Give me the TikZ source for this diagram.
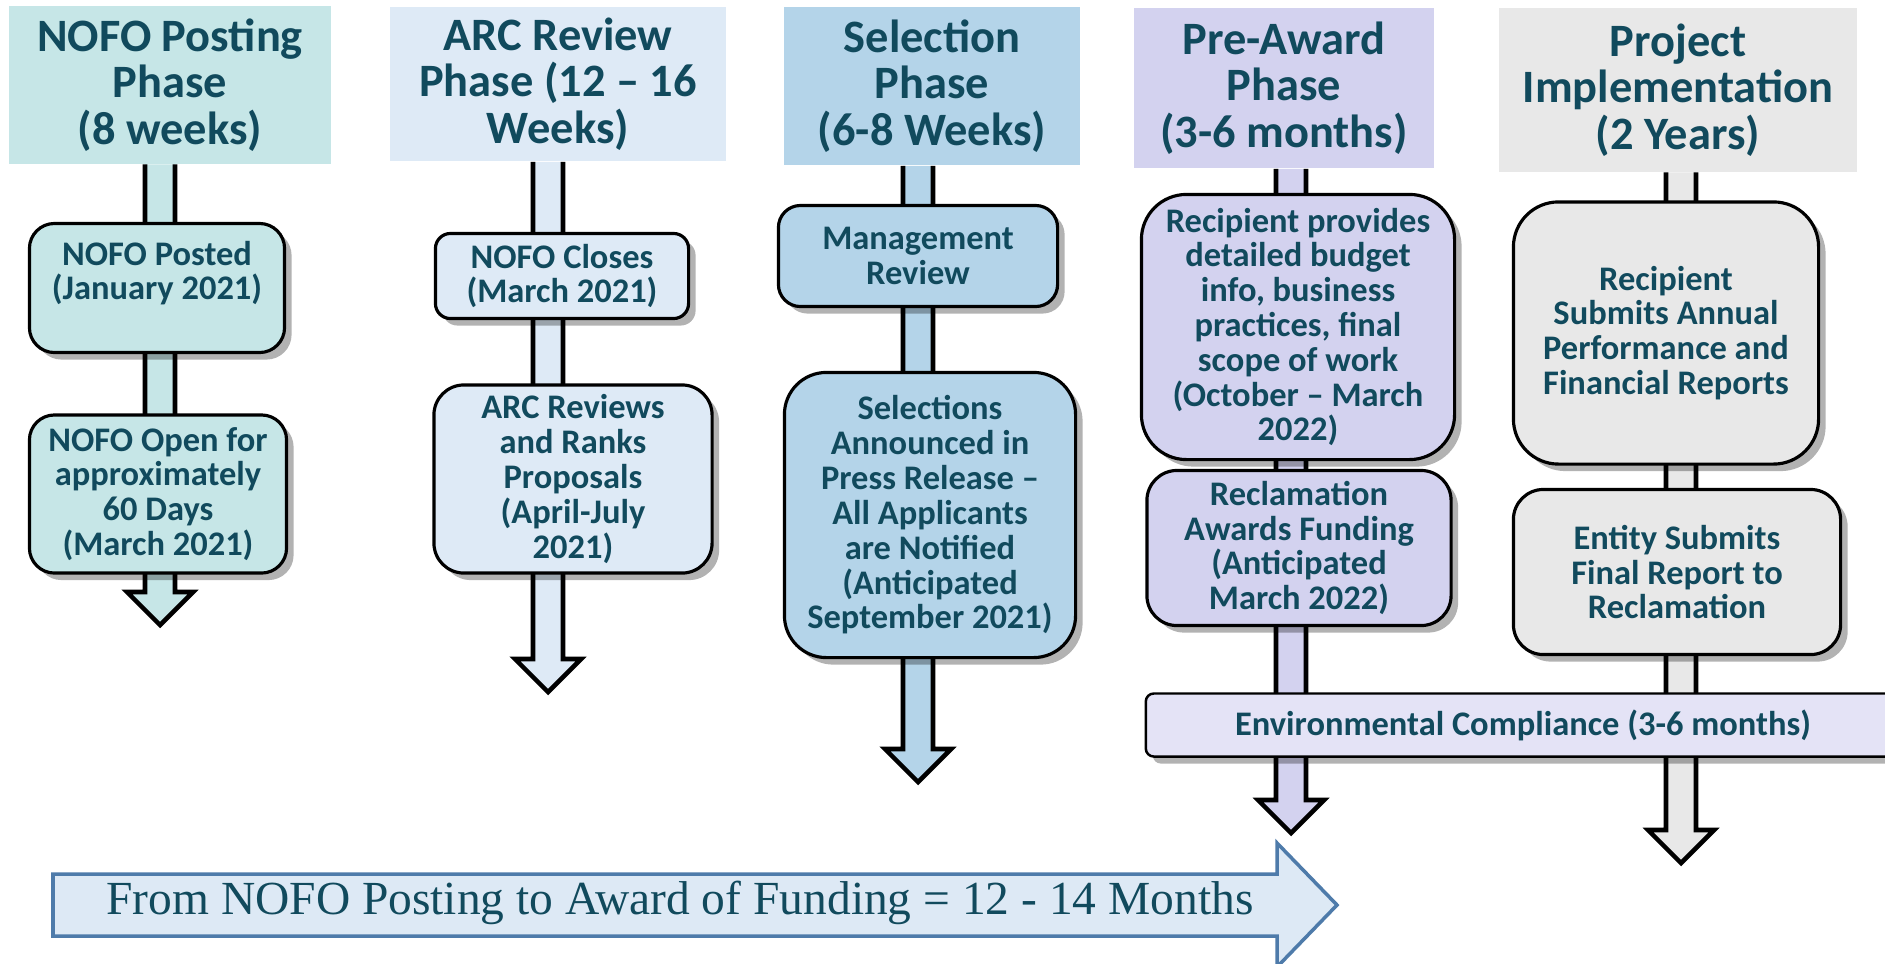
\documentclass[tikz,border=0pt]{standalone}
\usepackage{fontspec}
\setmainfont{Carlito}
\newfontfamily\spanfont{Liberation Serif}
\usetikzlibrary{calc,shadows}

\definecolor{inkteal}{HTML}{114A5D}
\definecolor{nofoteal}{HTML}{C6E6E7}
\definecolor{arcblue}{HTML}{DEEAF6}
\definecolor{selblue}{HTML}{B4D4E9}
\definecolor{awardlav}{HTML}{D3D2EF}
\definecolor{projgrey}{HTML}{E8E8E8}
\definecolor{envlav}{HTML}{E4E3F6}
\definecolor{spanedge}{HTML}{4E7BAA}
\definecolor{spanfill}{HTML}{DDE9F5}

% block arrow from a phase header down to its end point
\newcommand{\phasearrow}[3]{%
  \draw[shaft, fill=#3] ($(#1.south -| #2)+(-15,0)$) -- ($(#2)+(-15,-36)$) -- ($(#2)+(-33,-36)$)
    -- ($(#2)+(0,-3)$) -- ($(#2)+(33,-36)$) -- ($(#2)+(15,-36)$) -- ($(#1.south -| #2)+(15,0)$);}

\begin{document}
\begin{tikzpicture}[x=0.01cm, y=-0.01cm,
    phasehead/.style={fill=#1, text=inkteal, font=\fontsize{13.2}{13.2}\selectfont\bfseries,
      align=center, inner sep=0pt},
    stepbox/.style={draw=black, line width=0.9pt, fill=#1, text=inkteal,
      font=\fontsize{9.8}{9.9}\selectfont\bfseries, align=center, inner sep=0pt,
      drop shadow={shadow xshift=2pt, shadow yshift=-2pt, fill=black, opacity=0.3}},
    shaft/.style={draw=black, line width=1.3pt, line join=miter},
    spanarrow/.style={draw=spanedge, line width=1pt, fill=spanfill}]
    \useasboundingbox (0,0) rectangle (1885,963);
    \clip (0,0) rectangle (1885,963);

    \node[phasehead=nofoteal, minimum width=3.21cm, minimum height=1.57cm] (nofohead) at (170,85) {NOFO Posting\\Phase\\(8 weeks)};
    \node[phasehead=arcblue, minimum width=3.36cm, minimum height=1.54cm] (archead) at (558,84) {ARC Review\\Phase (12 – 16\\Weeks)};
    \node[phasehead=selblue, minimum width=2.96cm, minimum height=1.58cm] (selhead) at (932,86) {Selection\\Phase\\(6-8 Weeks)};
    \node[phasehead=awardlav, minimum width=2.99cm, minimum height=1.60cm] (awardhead) at (1284,88) {Pre-Award\\Phase\\(3-6 months)};
    \node[phasehead=projgrey, minimum width=3.58cm, minimum height=1.63cm] (projhead) at (1678,90) {Project\\Implementation\\(2 Years)};

    \coordinate (nofoend) at (160,628);
    \coordinate (arcend) at (548,695);
    \coordinate (selend) at (918,785);
    \coordinate (awardend) at (1291,836);
    \coordinate (projend) at (1681,866);

    \phasearrow{nofohead}{nofoend}{nofoteal}
    \phasearrow{archead}{arcend}{arcblue}
    \phasearrow{selhead}{selend}{selblue}
    \phasearrow{awardhead}{awardend}{awardlav}
    \phasearrow{projhead}{projend}{projgrey}

    \node[stepbox=nofoteal, rounded corners=0.25cm, minimum width=2.55cm, minimum height=1.29cm, text depth=10pt] (posted) at (157,288) {NOFO Posted\\(January 2021)};
    \node[stepbox=nofoteal, rounded corners=0.25cm, minimum width=2.57cm, minimum height=1.58cm] (open) at (158,494) {NOFO Open for\\approximately\\60 Days\\(March 2021)};

    \node[stepbox=arcblue, rounded corners=0.15cm, minimum width=2.53cm, minimum height=0.85cm] (closes) at (562,276) {NOFO Closes\\(March 2021)};
    \node[stepbox=arcblue, rounded corners=0.3cm, minimum width=2.78cm, minimum height=1.88cm] (ranks) at (573,479) {ARC Reviews\\and Ranks\\Proposals\\(April-July\\2021)};

    \node[stepbox=selblue, rounded corners=0.22cm, minimum width=2.79cm, minimum height=1.01cm] (mgmt) at (918,256) {Management\\Review};
    \node[stepbox=selblue, rounded corners=0.42cm, minimum width=2.91cm, minimum height=2.85cm] (announce) at (930,515) {Selections\\Announced in\\Press Release –\\All Applicants\\are Notified\\(Anticipated\\September 2021)};

    \node[stepbox=awardlav, rounded corners=0.45cm, minimum width=3.13cm, minimum height=2.65cm] (budget) at (1298,327) {Recipient provides\\detailed budget\\info, business\\practices, final\\scope of work\\(October – March\\2022)};
    \node[stepbox=awardlav, rounded corners=0.3cm, minimum width=3.04cm, minimum height=1.55cm] (funding) at (1299,548) {Reclamation\\Awards Funding\\(Anticipated\\March 2022)};

    \node[stepbox=projgrey, rounded corners=0.45cm, minimum width=3.05cm, minimum height=2.62cm] (annual) at (1666,333) {Recipient\\Submits Annual\\Performance and\\Financial Reports};
    \node[stepbox=projgrey, rounded corners=0.3cm, minimum width=3.27cm, minimum height=1.65cm] (final) at (1677,572) {Entity Submits\\Final Report to\\Reclamation};

    \node[stepbox=envlav, rounded corners=0.08cm, line width=0.7pt, minimum width=7.54cm, minimum height=0.63cm] (envcomp) at (1523,725) {Environmental Compliance (3-6 months)};

    \draw[spanarrow] (53,874) -- (1277,874) -- (1277,843) -- (1337,905) -- (1277,967) -- (1277,936) -- (53,936) -- cycle;
    \node[text=inkteal, font=\spanfont\fontsize{13.5}{13.5}\selectfont] (spantext) at (680,903) {From NOFO Posting to Award of Funding = 12 - 14 Months};
\end{tikzpicture}
\end{document}
